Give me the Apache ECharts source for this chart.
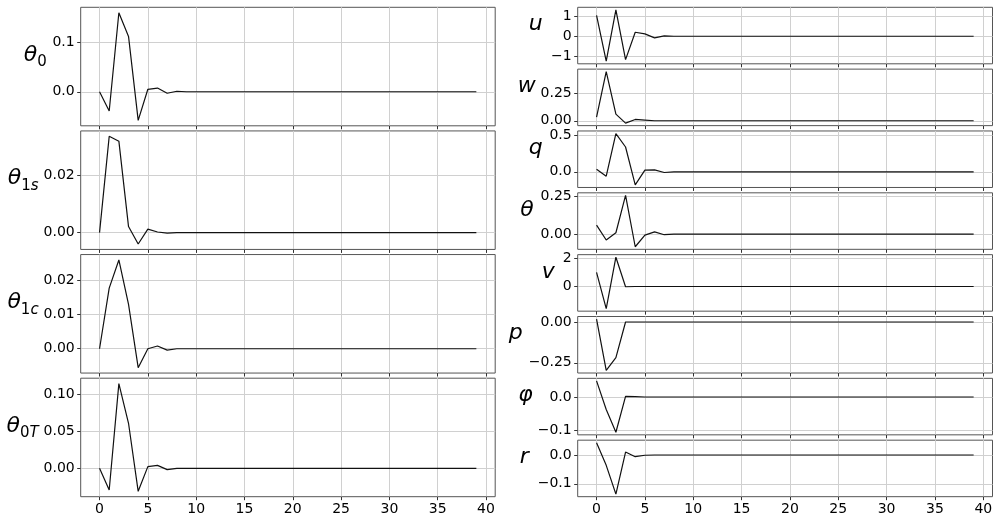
<!DOCTYPE html>
<html>
<head>
<meta charset="utf-8">
<script src="https://cdn.jsdelivr.net/npm/echarts@6/dist/echarts.min.js"></script>
<style>
html, body { margin: 0; padding: 0; background: #fff; }
#chart { width: 998px; height: 517px; }
</style>
</head>
<body>
<div id="chart"></div>
<script>
// time steps and x ticks
const steps = [0, 1, 2, 3, 4, 5, 6, 7, 8, 9, 10, 11, 12, 13, 14, 15, 16, 17, 18, 19, 20, 21, 22, 23, 24, 25, 26, 27, 28, 29, 30, 31, 32, 33, 34, 35, 36, 37, 38, 39]
const xTicks = [0, 5, 10, 15, 20, 25, 30, 35, 40]

// controls (left column)
const theta0 = [0, -0.039, 0.160, 0.112, -0.058, 0.005, 0.0075, -0.003, 0.001, 0, 0, 0, 0, 0, 0, 0, 0, 0, 0, 0, 0, 0, 0, 0, 0, 0, 0, 0, 0, 0, 0, 0, 0, 0, 0, 0, 0, 0, 0, 0]
const theta1s = [0, 0.0336, 0.0319, 0.0021, -0.0040, 0.0012, 0.0002, -0.0002, 0, 0, 0, 0, 0, 0, 0, 0, 0, 0, 0, 0, 0, 0, 0, 0, 0, 0, 0, 0, 0, 0, 0, 0, 0, 0, 0, 0, 0, 0, 0, 0]
const theta1c = [0, 0.0176, 0.0258, 0.0129, -0.0055, 0, 0.0008, -0.0004, 0, 0, 0, 0, 0, 0, 0, 0, 0, 0, 0, 0, 0, 0, 0, 0, 0, 0, 0, 0, 0, 0, 0, 0, 0, 0, 0, 0, 0, 0, 0, 0]
const theta0T = [0, -0.0293, 0.1144, 0.0608, -0.031, 0.0023, 0.0040, -0.0018, 0, 0, 0, 0, 0, 0, 0, 0, 0, 0, 0, 0, 0, 0, 0, 0, 0, 0, 0, 0, 0, 0, 0, 0, 0, 0, 0, 0, 0, 0, 0, 0]

// states (right column)
const u = [1.05, -1.26, 1.33, -1.18, 0.20, 0.12, -0.08, 0.02, 0, 0, 0, 0, 0, 0, 0, 0, 0, 0, 0, 0, 0, 0, 0, 0, 0, 0, 0, 0, 0, 0, 0, 0, 0, 0, 0, 0, 0, 0, 0, 0]
const w = [0.034, 0.448, 0.061, -0.021, 0.012, 0.006, 0, 0, 0, 0, 0, 0, 0, 0, 0, 0, 0, 0, 0, 0, 0, 0, 0, 0, 0, 0, 0, 0, 0, 0, 0, 0, 0, 0, 0, 0, 0, 0, 0, 0]
const q = [0.036, -0.059, 0.518, 0.336, -0.177, 0.023, 0.027, -0.009, 0, 0, 0, 0, 0, 0, 0, 0, 0, 0, 0, 0, 0, 0, 0, 0, 0, 0, 0, 0, 0, 0, 0, 0, 0, 0, 0, 0, 0, 0, 0, 0]
const theta = [0.059, -0.039, 0.009, 0.254, -0.083, -0.007, 0.015, -0.004, 0, 0, 0, 0, 0, 0, 0, 0, 0, 0, 0, 0, 0, 0, 0, 0, 0, 0, 0, 0, 0, 0, 0, 0, 0, 0, 0, 0, 0, 0, 0, 0]
const v = [0.99, -1.55, 2.05, -0.02, 0, 0, 0, 0, 0, 0, 0, 0, 0, 0, 0, 0, 0, 0, 0, 0, 0, 0, 0, 0, 0, 0, 0, 0, 0, 0, 0, 0, 0, 0, 0, 0, 0, 0, 0, 0]
const p = [0.018, -0.297, -0.219, 0, 0, 0, 0, 0, 0, 0, 0, 0, 0, 0, 0, 0, 0, 0, 0, 0, 0, 0, 0, 0, 0, 0, 0, 0, 0, 0, 0, 0, 0, 0, 0, 0, 0, 0, 0, 0]
const phi = [0.048, -0.037, -0.105, 0.002, 0.001, 0, 0, 0, 0, 0, 0, 0, 0, 0, 0, 0, 0, 0, 0, 0, 0, 0, 0, 0, 0, 0, 0, 0, 0, 0, 0, 0, 0, 0, 0, 0, 0, 0, 0, 0]
const r = [0.0425, -0.036, -0.136, 0.0103, -0.006, -0.001, 0, 0, 0, 0, 0, 0, 0, 0, 0, 0, 0, 0, 0, 0, 0, 0, 0, 0, 0, 0, 0, 0, 0, 0, 0, 0, 0, 0, 0, 0, 0, 0, 0, 0]

// y tick values
const theta0Ticks = [0, 0.1]
const theta1sTicks = [0, 0.02]
const theta1cTicks = [0, 0.01, 0.02]
const theta0TTicks = [0, 0.05, 0.1]
const uTicks = [-1, 0, 1]
const wTicks = [0, 0.25]
const qTicks = [0, 0.5]
const thetaTicks = [0, 0.25]
const vTicks = [0, 2]
const pTicks = [-0.25, 0]
const phiTicks = [-0.1, 0]
const rTicks = [-0.1, 0]

const panels = [
  { col: 0, row: 0, values: theta0, ticks: theta0Ticks, dec: 1, label: '{m|θ}{s|0}', gap: 34 },
  { col: 0, row: 1, values: theta1s, ticks: theta1sTicks, dec: 2, label: '{m|θ}{s|1}{si|s}', gap: 41 },
  { col: 0, row: 2, values: theta1c, ticks: theta1cTicks, dec: 2, label: '{m|θ}{s|1}{si|c}', gap: 41 },
  { col: 0, row: 3, values: theta0T, ticks: theta0TTicks, dec: 2, label: '{m|θ}{s|0}{si|T}', gap: 41 },
  { col: 1, row: 0, values: u, ticks: uTicks, dec: 0, label: '{n|u}', gap: 35 },
  { col: 1, row: 1, values: w, ticks: wTicks, dec: 2, label: '{n|w}', gap: 36 },
  { col: 1, row: 2, values: q, ticks: qTicks, dec: 1, label: '{n|q}', gap: 35 },
  { col: 1, row: 3, values: theta, ticks: thetaTicks, dec: 2, label: '{n|θ}', gap: 44 },
  { col: 1, row: 4, values: v, ticks: vTicks, dec: 0, label: '{n|v}', gap: 23 },
  { col: 1, row: 5, values: p, ticks: pTicks, dec: 2, label: '{n|p}', gap: 55 },
  { col: 1, row: 6, values: phi, ticks: phiTicks, dec: 1, label: '{n|φ}', gap: 45 },
  { col: 1, row: 7, values: r, ticks: rTicks, dec: 1, label: '{n|r}', gap: 49 }
]

const layouts = [
  { left: 80.7, width: 414.5, top: 7.3, height: 118.5, step: 123.63, rows: 4 },
  { left: 577.7, width: 414.8, top: 7.3, height: 56.5, step: 61.84, rows: 8 }
]

const padMin = function (ext) { return ext.min - 0.05 * (ext.max - ext.min) }
const padMax = function (ext) { return ext.max + 0.05 * (ext.max - ext.min) }
const fmt = function (val, dec) { return val.toFixed(dec).replace('-', '\u2212') }

const font = 'DejaVu Sans'
const grids = []
const xAxes = []
const yAxes = []
const series = []

panels.forEach((pn, i) => {
  const lay = layouts[pn.col]
  const isBottom = pn.row === lay.rows - 1
  grids.push({
    left: lay.left,
    top: lay.top + pn.row * lay.step,
    width: lay.width,
    height: lay.height,
    show: true,
    borderColor: '#555',
    borderWidth: 1,
    containLabel: false,
    outerBoundsMode: 'none'
  })
  xAxes.push({
    gridIndex: i,
    type: 'value',
    position: 'bottom',
    min: padMin,
    max: padMax,
    axisLine: { show: false, onZero: false },
    axisTick: { show: true, length: 3.5, customValues: xTicks, lineStyle: { color: '#333' } },
    axisLabel: {
      show: isBottom,
      customValues: xTicks,
      margin: 6,
      fontSize: 14,
      fontFamily: font,
      color: '#000'
    },
    splitLine: { show: true, lineStyle: { color: '#d0d0d0', width: 1 } }
  })
  yAxes.push({
    gridIndex: i,
    type: 'value',
    position: 'left',
    min: padMin,
    max: padMax,
    name: pn.label,
    nameLocation: 'middle',
    nameRotate: 0,
    nameGap: pn.gap,
    nameTextStyle: {
      align: 'right',
      verticalAlign: 'bottom',
      rich: {
        m: { fontSize: 22, fontStyle: 'italic', fontFamily: font, color: '#000', height: 23, lineHeight: 26, verticalAlign: 'bottom' },
        s: { fontSize: 15, fontFamily: font, color: '#000', height: 8, lineHeight: 10, verticalAlign: 'bottom' },
        si: { fontSize: 15, fontStyle: 'italic', fontFamily: font, color: '#000', height: 8, lineHeight: 10, verticalAlign: 'bottom' },
        n: { fontSize: 22, fontStyle: 'italic', fontFamily: font, color: '#000', height: 22, lineHeight: 26, verticalAlign: 'bottom' }
      }
    },
    axisLine: { show: false, onZero: false },
    axisTick: { show: true, length: 3.5, customValues: pn.ticks, lineStyle: { color: '#333' } },
    axisLabel: {
      customValues: pn.ticks,
      margin: 6,
      fontSize: 14,
      fontFamily: font,
      color: '#000',
      formatter: (val) => fmt(val, pn.dec)
    },
    splitLine: { show: true, lineStyle: { color: '#d0d0d0', width: 1 } }
  })
  series.push({
    type: 'line',
    xAxisIndex: i,
    yAxisIndex: i,
    data: steps.map((x, k) => [x, pn.values[k]]),
    showSymbol: false,
    symbol: 'none',
    lineStyle: { color: '#111', width: 1.2 }
  })
})

const myChart = echarts.init(document.getElementById('chart'))
myChart.setOption({
  animation: false,
  backgroundColor: '#fff',
  grid: grids,
  xAxis: xAxes,
  yAxis: yAxes,
  series: series
})
</script>
</body>
</html>
